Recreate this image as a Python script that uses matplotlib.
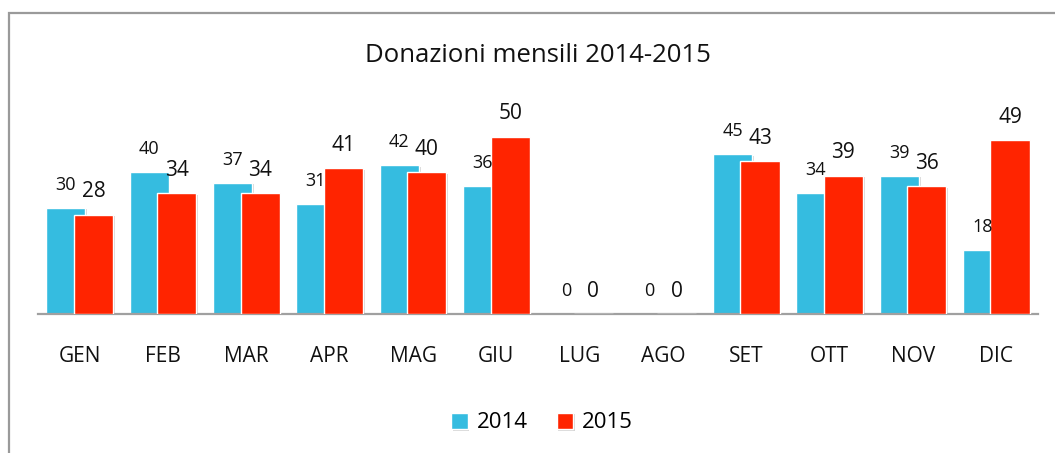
import matplotlib
matplotlib.use("Agg")
import matplotlib.pyplot as plt
import matplotlib.patheffects as pe
from matplotlib.patches import Rectangle
import numpy as np

plt.rcParams['font.family'] = ['Open Sans', 'DejaVu Sans']

# data
mesi = ["GEN", "FEB", "MAR", "APR", "MAG", "GIU", "LUG", "AGO", "SET", "OTT", "NOV", "DIC"]
don_2014 = [30, 40, 37, 31, 42, 36, 0, 0, 45, 34, 39, 18]
don_2015 = [28, 34, 34, 41, 40, 50, 0, 0, 43, 39, 36, 49]

col_2014 = "#35BCE0"
col_2015 = "#FF2400"

fig = plt.figure(figsize=(10.55, 4.53), dpi=100)
W, H = 1055, 453

# outer chart border (gray frame, cropped on right/bottom)
fig.patches.append(Rectangle((9 / W, -0.1), 1.2, (H - 12.5) / H + 0.1,
                             transform=fig.transFigure, fill=False,
                             edgecolor="#9a9a9a", linewidth=1.6))

# axes placed to match the reference: x 38..1038, baseline at y=314
ax = fig.add_axes([38 / W, (H - 314) / H, 1000 / W, 213 / H])
ax.set_xlim(-0.5, len(mesi) - 0.5)
ax.set_ylim(0, 60)

x = np.arange(len(mesi))
w = 0.47
off = 0.165
shadow = [pe.SimplePatchShadow(offset=(1.2, -1.2), shadow_rgbFace="#888888", alpha=0.35), pe.Normal()]

b1 = ax.bar(x - off, don_2014, w, color=col_2014, edgecolor="white", linewidth=1.0,
            label="2014", zorder=2)
b2 = ax.bar(x + off, don_2015, w, color=col_2015, edgecolor="white", linewidth=1.0,
            label="2015", zorder=3)
for b in list(b1) + list(b2):
    if b.get_height() > 0:
        b.set_path_effects(shadow)

# value labels
for xi, v in zip(x, don_2014):
    ax.annotate(str(v), (xi - off, v), xytext=(0, 16.5), textcoords="offset points",
                ha="center", va="center", fontsize=13, color="#111111")
for xi, v in zip(x, don_2015):
    ax.annotate(str(v), (xi + off, v), xytext=(0, 16.5), textcoords="offset points",
                ha="center", va="center", fontsize=15, color="#111111")

for s in ["top", "right", "left"]:
    ax.spines[s].set_visible(False)
ax.spines["bottom"].set_color("#a0a0a0")
ax.spines["bottom"].set_linewidth(1.6)
ax.set_yticks([])
ax.set_xticks(x)
ax.set_xticklabels(mesi, fontsize=15, color="#111111")
ax.tick_params(axis="x", length=0, pad=23)
ax.patch.set_alpha(0)

fig.text(538 / W, 1 - 55 / H, "Donazioni mensili 2014-2015", ha="center", va="center",
         fontsize=18.5, color="#111111")

fig.legend(handles=[b1, b2], labels=["2014", "2015"], loc="center",
           bbox_to_anchor=(542 / W, 1 - 423 / H), ncol=2, frameon=False,
           fontsize=16, handlelength=0.75, handleheight=0.75, handletextpad=0.4,
           columnspacing=1.3)

fig.savefig("out.png", dpi=100)
